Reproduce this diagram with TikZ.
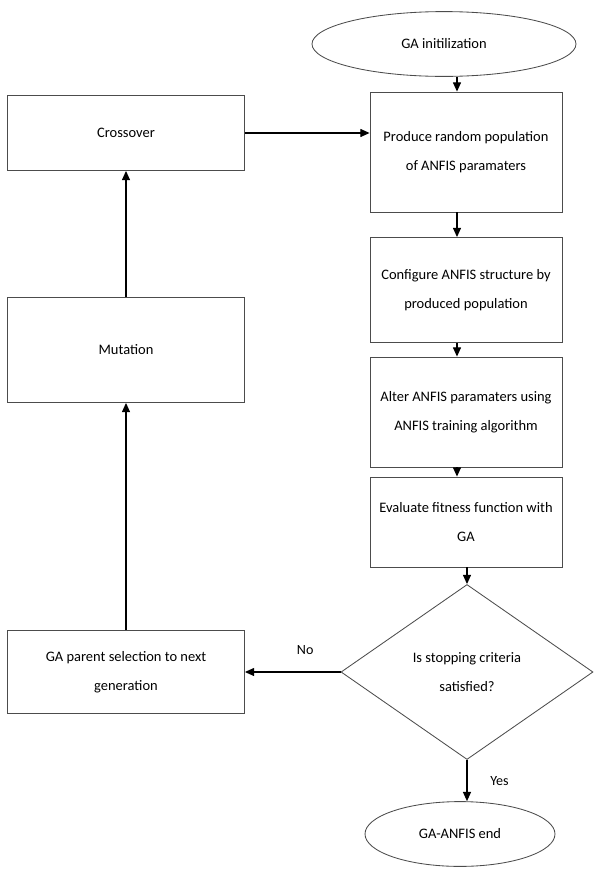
\documentclass[tikz,border=0pt]{standalone}
\usepackage{fontspec}
\setmainfont{Carlito}
\usetikzlibrary{shapes.geometric,arrows.meta}

\tikzset{
  procbox/.style={draw=black!70,semithick,rectangle,align=center,font=\fontsize{10.3}{21}\selectfont},
  termnode/.style={draw=black!70,semithick,ellipse,align=center,font=\fontsize{10.3}{21}\selectfont},
  decnode/.style={draw=black!70,semithick,diamond,align=center,inner sep=0pt,font=\fontsize{10.3}{21}\selectfont},
  flow/.style={thick,-{Triangle[length=2.3mm,width=2mm]}}
}

\begin{document}
\begin{tikzpicture}
  \useasboundingbox (0,0) rectangle (15.15,-22.075);

  % right column
  \node[termnode,minimum width=6.6cm,minimum height=1.62cm] (init) at (11.1,-1.1) {GA initilization};
  \node[procbox,minimum width=4.8cm,minimum height=3cm] (produce) at (11.65,-3.8) {Produce random population\\of ANFIS paramaters};
  \node[procbox,minimum width=4.8cm,minimum height=2.625cm] (config) at (11.65,-7.25) {Configure ANFIS structure by\\produced population};
  \node[procbox,minimum width=4.8cm,minimum height=2.75cm] (alter) at (11.65,-10.3) {Alter ANFIS paramaters using\\ANFIS training algorithm};
  \node[procbox,minimum width=4.8cm,minimum height=2.25cm] (eval) at (11.65,-13.05) {Evaluate fitness function with\\GA};
  \node[decnode,minimum width=6.3cm,minimum height=4.375cm] (stop) at (11.675,-16.8) {Is stopping criteria\\satisfied?};
  \node[termnode,minimum width=4.75cm,minimum height=1.62cm] (finish) at (11.5,-20.85) {GA-ANFIS end};

  % left column
  \node[procbox,minimum width=5.925cm,minimum height=1.875cm] (cross) at (3.15,-3.325) {Crossover};
  \node[procbox,minimum width=5.925cm,minimum height=2.625cm] (mut) at (3.15,-8.75) {Mutation};
  \node[procbox,minimum width=5.925cm,minimum height=2.075cm] (parent) at (3.15,-16.8) {GA parent selection to next\\generation};

  % connectors
  \draw[flow] ([xshift=-0.225cm]produce.north |- init.south) -- ([xshift=-0.225cm]produce.north);
  \draw[flow] ([xshift=-0.225cm]produce.south) -- ([xshift=-0.225cm]config.north);
  \draw[flow] ([xshift=-0.225cm]config.south) -- ([xshift=-0.225cm]alter.north);
  \draw[flow] ([xshift=-0.225cm]alter.south) -- ([xshift=-0.225cm]eval.north);
  \draw[flow] (stop.north |- eval.south) -- (stop.north);
  \draw[flow] (stop.south) -- node[right=0.45cm] {Yes} (stop.south |- finish.north);
  \draw[flow] (stop.west) -- node[above=0.3cm,pos=0.37] {No} (parent.east);
  \draw[flow] (parent.north) -- (mut.south);
  \draw[flow] (mut.north) -- (cross.south);
  \draw[flow] (cross.east) -- (cross.east -| produce.west);
\end{tikzpicture}
\end{document}
